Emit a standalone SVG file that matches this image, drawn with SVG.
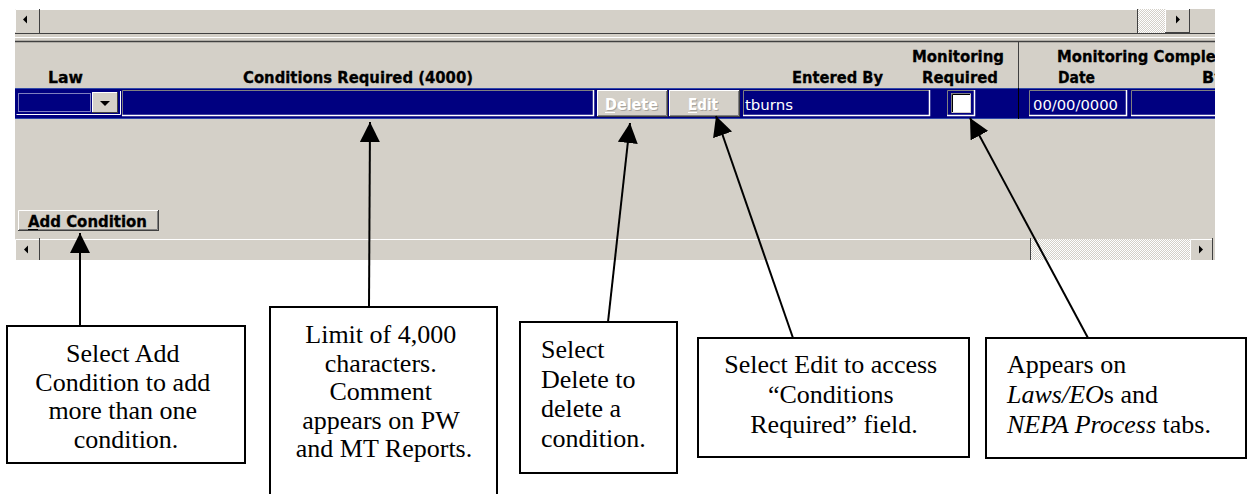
<svg xmlns="http://www.w3.org/2000/svg" width="1248" height="494" viewBox="0 0 1248 494">
  <defs>
    <style>
      .hdr{font-family:"DejaVu Sans",sans-serif;font-weight:bold;font-size:16px;fill:#000;stroke:#000;stroke-width:0.3}
      .cell{font-family:"DejaVu Sans",sans-serif;font-size:14px;fill:#fff}
      .btn{font-family:"DejaVu Sans",sans-serif;font-weight:bold;font-size:15px}
      .note{font-family:"Liberation Serif","Times New Roman",serif;font-size:26px;fill:#000}
      .box{fill:#fff;stroke:#000;stroke-width:2}
      .conn{stroke:#000;stroke-width:2;fill:none;marker-end:url(#head)}
      .face{fill:#d4d0c8}
      .hi{stroke:#fff;stroke-width:1;fill:none}
      .sh{stroke:#808080;stroke-width:1;fill:none}
      .dk{stroke:#404040;stroke-width:1;fill:none}
      .field{fill:#000080}
    </style>
    <marker id="head" markerUnits="userSpaceOnUse" markerWidth="20" markerHeight="20" refX="20" refY="10" orient="auto" viewBox="0 0 20 20">
      <path d="M0,0 L20,10 L0,20 z" fill="#000"/>
    </marker>
    <pattern id="stip" width="2" height="2" patternUnits="userSpaceOnUse">
      <rect width="2" height="2" fill="#d4d0c8"/>
      <rect width="1" height="1" fill="#fff"/>
      <rect x="1" y="1" width="1" height="1" fill="#fff"/>
    </pattern>
    <clipPath id="panelClip"><rect x="15" y="9" width="1200" height="251"/></clipPath>
  </defs>

  <rect width="1248" height="494" fill="#fff"/>

  <!-- form panel -->
  <g id="panel" clip-path="url(#panelClip)">
    <rect x="15" y="9" width="1200" height="251" class="face"/>

    <!-- top horizontal scrollbar -->
    <g id="top-scroll">
      <path d="M15.5,32 V9.5 H39" class="hi"/>
      <path d="M39.5,9 V33" class="dk"/>
      <polygon points="23,19.5 27,15.5 27,23.5" fill="#000"/>
      <path d="M40,9.5 H1137" class="hi"/>
      <path d="M1137.5,9 V33" class="dk"/>
      <rect x="1138" y="9" width="27" height="24" fill="url(#stip)"/>
      <rect x="1165" y="9" width="25" height="24" class="face"/>
      <path d="M1165.5,32 V9.5 H1189" class="hi"/>
      <path d="M1189.5,9 V33 M1165,32.5 H1190" class="dk"/>
      <polygon points="1180,19.5 1176,15.5 1176,23.5" fill="#000"/>
      <path d="M15,33.5 H1215" class="dk"/>
      <path d="M15,37.5 H1215" class="hi"/>
      <path d="M15,41.5 H1215" stroke="#404040" stroke-width="1.5"/>
    </g>

    <!-- column headings -->
    <g id="headings">
      <text class="hdr" x="48" y="83" textLength="35" lengthAdjust="spacingAndGlyphs">Law</text>
      <text class="hdr" x="243" y="83" textLength="230" lengthAdjust="spacingAndGlyphs">Conditions Required (4000)</text>
      <text class="hdr" x="792" y="83" textLength="91" lengthAdjust="spacingAndGlyphs">Entered By</text>
      <text class="hdr" x="912" y="62" textLength="92" lengthAdjust="spacingAndGlyphs">Monitoring</text>
      <text class="hdr" x="922" y="83" textLength="76" lengthAdjust="spacingAndGlyphs">Required</text>
      <text class="hdr" x="1057" y="62" textLength="176" lengthAdjust="spacingAndGlyphs">Monitoring Complete</text>
      <text class="hdr" x="1058" y="83" textLength="37" lengthAdjust="spacingAndGlyphs">Date</text>
      <text class="hdr" x="1202" y="83">By</text>
      <path d="M1018.5,42 V119" class="dk"/>
    </g>

    <!-- selected record row -->
    <g id="row">
      <rect x="15" y="88" width="1200" height="31" fill="#000080"/>
      <path d="M15,88.5 H1215 M15,118.5 H1215" stroke="#3048a8" stroke-width="1"/>
      <path d="M1018.5,88 V119" stroke="#000" stroke-width="1"/>

      <!-- Law combo box -->
      <g id="law-combo">
        <rect x="16" y="91" width="104" height="24" class="field"/>
        <path d="M16.5,114.5 H120.5 V91" class="hi"/>
        <rect x="18.5" y="93.5" width="72" height="18" fill="none" stroke="#fff" stroke-width="1" stroke-dasharray="1,1"/>
        <rect x="92" y="92" width="26" height="21" class="face"/>
        <path d="M92.5,112 V92.5 H117" class="hi"/>
        <path d="M117.5,92 V113 M92,112.5 H118" class="dk"/>
        <polygon points="100,101 110,101 105,106" fill="#000"/>
      </g>

      <!-- Conditions Required field -->
      <rect x="122" y="90" width="472" height="26" class="field"/>
      <path d="M122.5,116 V90.5 H594" class="sh"/>
      <path d="M122,115.5 H593.5 V90" stroke="#fff" stroke-width="1.5" fill="none"/>

      <!-- Delete button (disabled) -->
      <g id="delete-btn">
        <rect x="597" y="90" width="71" height="27" class="face"/>
        <path d="M597.5,116 V90.5 H667" class="hi"/>
        <path d="M667.5,90 V117 M597,116.5 H668" class="dk"/>
        <path d="M666.5,91 V115.5 H598" class="sh"/>
        <text class="btn" x="606" y="111" fill="#a8a49c" textLength="53" lengthAdjust="spacingAndGlyphs">Delete</text>
        <text class="btn" x="605" y="110" fill="#fff" textLength="53" lengthAdjust="spacingAndGlyphs">Delete</text>
        <path d="M605,112.5 H615" stroke="#fff" stroke-width="1"/>
      </g>

      <!-- Edit button (disabled) -->
      <g id="edit-btn">
        <rect x="669" y="90" width="71" height="27" class="face"/>
        <path d="M669.5,116 V90.5 H739" class="hi"/>
        <path d="M739.5,90 V117 M669,116.5 H740" class="dk"/>
        <path d="M738.5,91 V115.5 H670" class="sh"/>
        <text class="btn" x="689" y="111" fill="#a8a49c" textLength="30" lengthAdjust="spacingAndGlyphs">Edit</text>
        <text class="btn" x="688" y="110" fill="#fff" textLength="30" lengthAdjust="spacingAndGlyphs">Edit</text>
        <path d="M688,112.5 H697" stroke="#fff" stroke-width="1"/>
      </g>

      <!-- Entered By field -->
      <rect x="743" y="90" width="187" height="26" class="field"/>
      <path d="M743.5,116 V90.5 H930" class="sh"/>
      <path d="M743,115.5 H929.5 V90" stroke="#fff" stroke-width="1.5" fill="none"/>
      <text class="cell" x="745" y="110" textLength="48" lengthAdjust="spacingAndGlyphs">tburns</text>

      <!-- Monitoring Required check box -->
      <g id="monitor-check">
        <path d="M947.5,116 V90.5 H975" class="sh"/>
        <path d="M947,115.5 H974.5 V90" stroke="#fff" stroke-width="1.5" fill="none"/>
        <rect x="951" y="93" width="20" height="20" fill="#d4d0c8"/>
        <path d="M951.5,113 V93.5 H971" stroke="#808080" stroke-width="1" fill="none"/>
        <path d="M952.5,112 V94.5 H970" stroke="#000" stroke-width="1" fill="none"/>
        <rect x="953" y="95" width="17" height="17" fill="#fff"/>
      </g>

      <!-- Monitoring Completed date field -->
      <rect x="1029" y="90" width="98" height="26" class="field"/>
      <path d="M1029.5,116 V90.5 H1127" class="sh"/>
      <path d="M1029,115.5 H1126.5 V90" stroke="#fff" stroke-width="1.5" fill="none"/>
      <text class="cell" x="1033" y="110" textLength="85" lengthAdjust="spacingAndGlyphs">00/00/0000</text>

      <!-- Monitoring Completed by field -->
      <rect x="1131" y="90" width="90" height="26" class="field"/>
      <path d="M1131.5,116 V90.5 H1221" class="sh"/>
      <path d="M1131,115.5 H1221" stroke="#fff" stroke-width="1.5" fill="none"/>
    </g>

    <!-- Add Condition button -->
    <g id="add-btn">
      <rect x="18" y="210" width="141" height="21" class="face"/>
      <path d="M18.5,230 V210.5 H158" class="hi"/>
      <path d="M158.5,210 V231 M18,230.5 H159" class="dk"/>
      <path d="M157.5,211 V229.5 H19" class="sh"/>
      <text class="btn" x="28" y="227" fill="#000" stroke="#000" stroke-width="0.3" textLength="119" lengthAdjust="spacingAndGlyphs">Add Condition</text>
      <path d="M28,229.5 H38" stroke="#000" stroke-width="1"/>
    </g>

    <!-- bottom horizontal scrollbar -->
    <g id="bottom-scroll">
      <path d="M15.5,260 V239.5 H39" class="hi"/>
      <path d="M39.5,238 V260" class="dk"/>
      <polygon points="24,249.5 28,245.5 28,253.5" fill="#000"/>
      <path d="M40,239.5 H1030" class="hi"/>
      <path d="M1030.5,238 V260" class="dk"/>
      <rect x="1031" y="239" width="159" height="21" fill="url(#stip)"/>
      <rect x="1190" y="239" width="23" height="21" class="face"/>
      <path d="M1190.5,260 V239.5 H1212" class="hi"/>
      <path d="M1212.5,238 V260" class="dk"/>
      <polygon points="1203,249.5 1199,245.5 1199,253.5" fill="#000"/>
    </g>
  </g>

  <!-- callout boxes -->
  <g id="note-add">
    <rect class="box" x="7" y="326" width="238" height="137"/>
    <text class="note" text-anchor="middle">
      <tspan x="126" y="362">Select Add</tspan>
      <tspan x="126" y="391">Condition to add</tspan>
      <tspan x="126" y="419">more than one</tspan>
      <tspan x="126" y="448">condition.</tspan>
    </text>
  </g>

  <g id="note-limit">
    <rect class="box" x="270" y="307" width="227" height="200"/>
    <text class="note" text-anchor="middle">
      <tspan x="384" y="343">Limit of 4,000</tspan>
      <tspan x="384" y="372">characters.</tspan>
      <tspan x="384" y="400">Comment</tspan>
      <tspan x="384" y="429">appears on PW</tspan>
      <tspan x="384" y="457">and MT Reports.</tspan>
    </text>
  </g>

  <g id="note-delete">
    <rect class="box" x="520" y="322" width="157" height="151"/>
    <text class="note">
      <tspan x="541" y="358">Select</tspan>
      <tspan x="541" y="388">Delete to</tspan>
      <tspan x="541" y="417">delete a</tspan>
      <tspan x="541" y="447">condition.</tspan>
    </text>
  </g>

  <g id="note-edit">
    <rect class="box" x="698" y="338" width="271" height="119"/>
    <text class="note" text-anchor="middle">
      <tspan x="834" y="373">Select Edit to access</tspan>
      <tspan x="834" y="403">“Conditions</tspan>
      <tspan x="834" y="433">Required” field.</tspan>
    </text>
  </g>

  <g id="note-monitor">
    <rect class="box" x="986" y="338" width="260" height="120"/>
    <text class="note">
      <tspan x="1007" y="373">Appears on</tspan>
      <tspan x="1007" y="403"><tspan font-style="italic">Laws/EO</tspan>s and</tspan>
      <tspan x="1007" y="433"><tspan font-style="italic">NEPA Process</tspan> tabs.</tspan>
    </text>
  </g>

  <!-- connectors -->
  <g id="connectors">
    <line class="conn" x1="80" y1="326" x2="80" y2="233"/>
    <line class="conn" x1="369" y1="307" x2="370" y2="122"/>
    <line class="conn" x1="608" y1="322" x2="630" y2="123"/>
    <line class="conn" x1="793" y1="338" x2="716" y2="116"/>
    <line class="conn" x1="1088" y1="338" x2="970" y2="118"/>
  </g>
</svg>
